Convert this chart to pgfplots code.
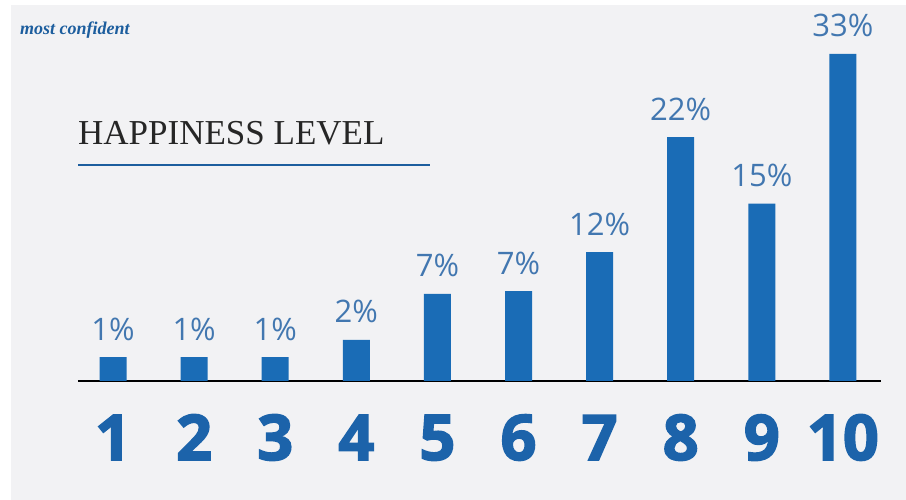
\documentclass[border=0pt]{standalone}
\usepackage{pgfplots}
\pgfplotsset{compat=1.18}
\usepackage{fontspec}
\setmainfont{Liberation Serif}
\newfontfamily\labfont{Open Sans}
\newfontfamily\numfont[FakeBold=2.5]{Open Sans Bold}
\definecolor{bg}{HTML}{F2F2F4}
\definecolor{barblue}{HTML}{1A6CB6}
\definecolor{labblue}{HTML}{4277B0}
\definecolor{numblue}{HTML}{1C63AA}
\definecolor{lineblue}{HTML}{1D5E9E}
\begin{document}
\begin{tikzpicture}[x=1pt,y=1pt]
\fill[white] (0,0) rectangle (906,500);
\fill[bg] (11,0) rectangle (906,495);
\node[anchor=base west,inner sep=0,text=lineblue,font=\fontsize{18}{18}\selectfont\bfseries\itshape] at (20,465) {most confident};
\node[anchor=base west,inner sep=0,text=black!85,font=\fontsize{35}{35}\selectfont] at (78,355) {HAPPINESS LEVEL};
\draw[lineblue,line width=2.5pt] (78,335) -- (430,335);
\begin{axis}[
  at={(78pt,119pt)}, anchor=south west,
  scale only axis, width=803pt, height=327pt,
  xmin=0.568, xmax=10.47, ymin=0, ymax=33,
  clip=false,
  axis x line*=bottom, axis y line=none,
  x axis line style={black,line width=1.5pt,-},
  ybar, bar width=27pt,
  xtick=data, major tick length=0pt,
  xticklabels={1,2,3,4,5,6,7,8,9,10},
  xticklabel style={anchor=base,inner sep=0pt,yshift=-79pt,text=numblue,
    font=\fontsize{63}{63}\selectfont\numfont},
  point meta=explicit symbolic,
  nodes near coords,
  every node near coord/.append style={anchor=base,inner sep=0pt,yshift=17pt,
    text=labblue,font=\fontsize{31}{31}\selectfont\labfont},
]
\addplot[fill=barblue,draw=none] coordinates {
  (1,2.42) [1\%]
  (2,2.42) [1\%]
  (3,2.42) [1\%]
  (4,4.14) [2\%]
  (5,8.78) [7\%]
  (6,9.08) [7\%]
  (7,13.0) [12\%]
  (8,24.6) [22\%]
  (9,17.9) [15\%]
  (10,33) [33\%]
};
\end{axis}
\end{tikzpicture}
\end{document}
